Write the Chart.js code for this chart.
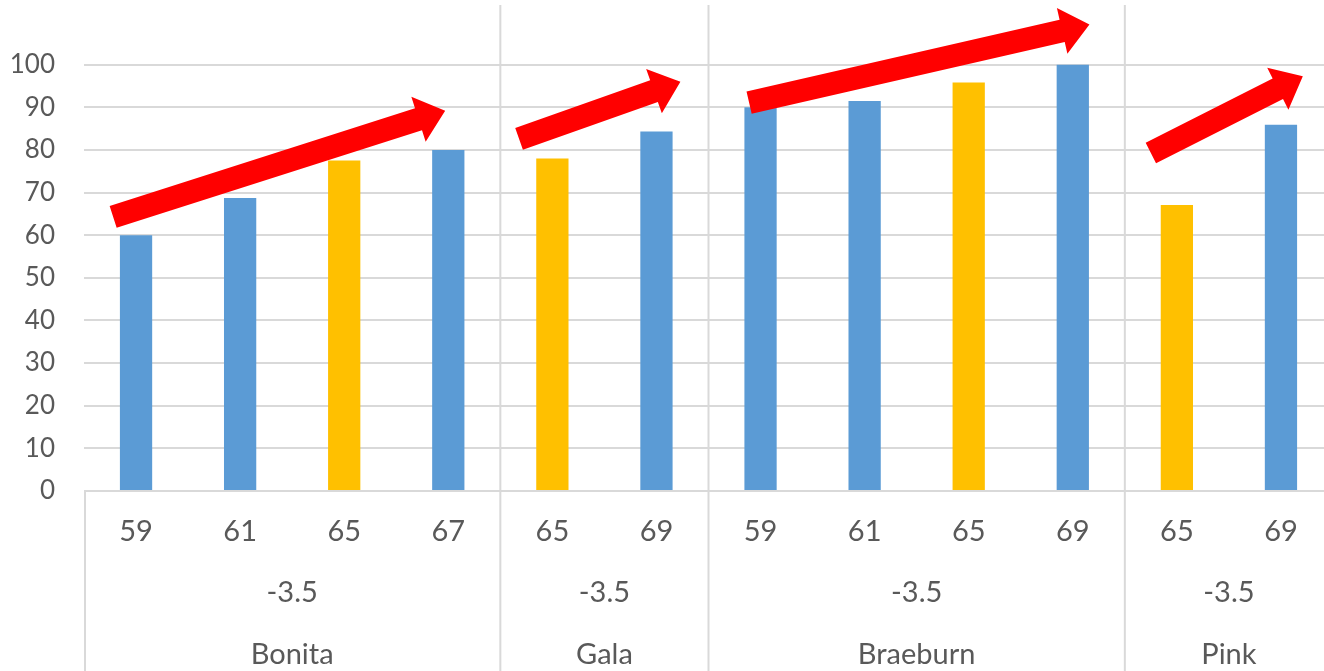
<!DOCTYPE html>
<html>
<head>
<meta charset="utf-8">
<script src="https://cdn.jsdelivr.net/npm/chart.js@4.4.1/dist/chart.umd.min.js"></script>
<style>
  html, body { margin: 0; padding: 0; background: #fff; overflow: hidden; }
  #wrap { width: 1333px; height: 671px; position: relative; }
</style>
</head>
<body>
<div id="wrap"><canvas id="c"></canvas></div>
<script>
// ---- data ----
const sizeLabels = ['59','61','65','67','65','69','59','61','65','69','65','69'];
const varieties = ['Bonita','Gala','Braeburn','Pink'];
const groupCounts = [4, 2, 4, 2];
const tempLabels = ['-3.5','-3.5','-3.5','-3.5'];
const values = [60, 68.7, 77.5, 80, 78, 84.3, 90, 91.5, 95.8, 100, 67.1, 85.9];
const highlighted = [false,false,true,false,true,false,false,false,true,false,true,false];
const yMaxTick = 100;
const yStep = 10;
// arrows: tail and tip given in (category index, value) data units
const arrowTails = [[-0.22, 64.3], [3.68, 82.6], [5.89, 91.1], [9.75, 79.3]];
const arrowTips  = [[2.97, 89.2], [5.23, 96.0], [9.16, 109.4], [11.21, 97.3]];

const FONT = 'Lato, "Open Sans", sans-serif';
const TEXT = '#595959';
const GRID = '#D9D9D9';

const overlay = {
  id: 'overlay',
  beforeDatasetsDraw(chart) {
    const ctx = chart.ctx, x = chart.scales.x, a = chart.chartArea;
    ctx.save();
    ctx.strokeStyle = GRID;
    ctx.lineWidth = 2;
    // left border of category area
    ctx.beginPath();
    ctx.moveTo(a.left + 1, a.bottom);
    ctx.lineTo(a.left + 1, chart.height);
    ctx.stroke();
    // group separators
    let idx = 0;
    for (let g = 0; g < groupCounts.length - 1; g++) {
      idx += groupCounts[g];
      const px = (x.getPixelForValue(idx - 1) + x.getPixelForValue(idx)) / 2;
      ctx.beginPath();
      ctx.moveTo(px, a.top);
      ctx.lineTo(px, chart.height);
      ctx.stroke();
    }
    ctx.restore();
  },
  afterDatasetsDraw(chart) {
    const ctx = chart.ctx, x = chart.scales.x, y = chart.scales.y, a = chart.chartArea;
    ctx.save();
    // category labels
    ctx.fillStyle = TEXT;
    ctx.font = '29px ' + FONT;
    ctx.textAlign = 'center';
    ctx.textBaseline = 'middle';
    sizeLabels.forEach((s, i) => ctx.fillText(s, x.getPixelForValue(i), a.bottom + 41));
    let idx = 0;
    groupCounts.forEach((n, g) => {
      const cx = (x.getPixelForValue(idx) + x.getPixelForValue(idx + n - 1)) / 2;
      ctx.fillText(tempLabels[g], cx, a.bottom + 102);
      ctx.fillText(varieties[g], cx, a.bottom + 164);
      idx += n;
    });
    // arrows
    ctx.fillStyle = '#FF0000';
    const shaftW = 23, headW = 47, headL = 28;
    arrowTails.forEach((t, k) => {
      const tip = arrowTips[k];
      const x0 = x.getPixelForValue(t[0]), y0 = y.getPixelForValue(t[1]);
      const x1 = x.getPixelForValue(tip[0]), y1 = y.getPixelForValue(tip[1]);
      const dx = x1 - x0, dy = y1 - y0, L = Math.hypot(dx, dy);
      const ux = dx / L, uy = dy / L, nx = -uy, ny = ux;
      const bx = x1 - ux * headL, by = y1 - uy * headL;
      ctx.beginPath();
      ctx.moveTo(x0 + nx * shaftW / 2, y0 + ny * shaftW / 2);
      ctx.lineTo(bx + nx * shaftW / 2, by + ny * shaftW / 2);
      ctx.lineTo(bx + nx * headW / 2, by + ny * headW / 2);
      ctx.lineTo(x1, y1);
      ctx.lineTo(bx - nx * headW / 2, by - ny * headW / 2);
      ctx.lineTo(bx - nx * shaftW / 2, by - ny * shaftW / 2);
      ctx.lineTo(x0 - nx * shaftW / 2, y0 - ny * shaftW / 2);
      ctx.closePath();
      ctx.fill();
    });
    ctx.restore();
  }
};

new Chart(document.getElementById('c'), {
  type: 'bar',
  data: {
    labels: sizeLabels,
    datasets: [{
      data: values,
      backgroundColor: highlighted.map(h => h ? '#FFC000' : '#5B9BD5'),
      barPercentage: 0.31,
      categoryPercentage: 1.0,
      borderWidth: 0
    }]
  },
  options: {
    responsive: true,
    maintainAspectRatio: false,
    animation: false,
    layout: { padding: { top: 5, right: 0, left: 0, bottom: 0 } },
    plugins: { legend: { display: false }, tooltip: { enabled: false } },
    scales: {
      x: {
        ticks: { display: false },
        grid: { display: false },
        border: { display: false },
        afterFit(s) { s.height = 180; s.paddingLeft = 0; s.paddingRight = 0; }
      },
      y: {
        min: 0,
        max: 114,
        ticks: {
          stepSize: yStep,
          padding: 29,
          color: TEXT,
          font: { family: FONT, size: 26 }
        },
        afterBuildTicks(s) { s.ticks = s.ticks.filter(t => t.value <= yMaxTick); },
        grid: { color: GRID, lineWidth: 2, drawTicks: false },
        border: { display: false },
        afterFit(s) { s.width = 84; s.paddingTop = 0; s.paddingBottom = 0; }
      }
    }
  },
  plugins: [overlay]
});
</script>
</body>
</html>
